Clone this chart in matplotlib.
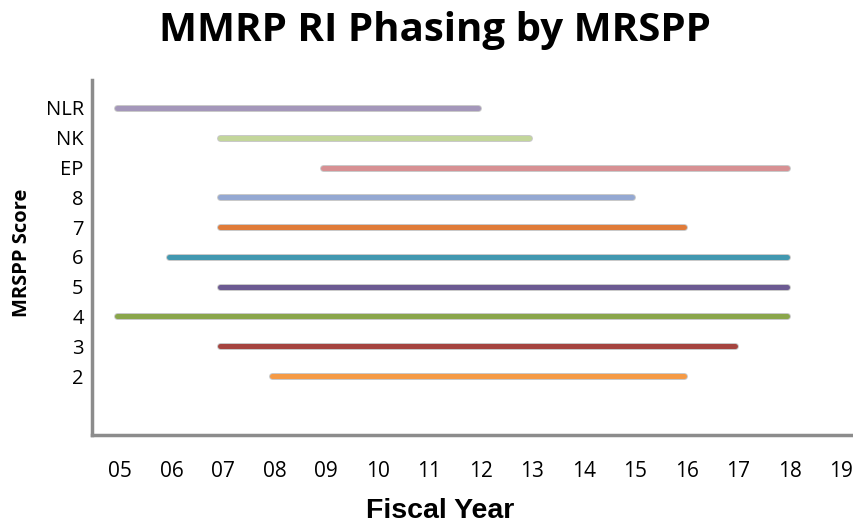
import matplotlib
matplotlib.use("Agg")
import matplotlib.pyplot as plt
import matplotlib.patheffects as pe
from matplotlib.transforms import ScaledTranslation

# Data (bottom to top)
categories = ["2", "3", "4", "5", "6", "7", "8", "EP", "NK", "NLR"]
start_year = [8, 7, 5, 7, 6, 7, 7, 9, 7, 5]
end_year = [16, 17, 18, 18, 18, 16, 15, 18, 13, 12]
colors = ["#f59a45", "#a5443f", "#8aa64b", "#6c5a92", "#4298b0",
          "#e07b39", "#94a8d2", "#d79093", "#c3d69b", "#a497ba"]
year_ticks = list(range(5, 20))
year_labels = [f"{y:02d}" for y in year_ticks]

fig = plt.figure(figsize=(8.54, 5.25), dpi=100)
ax = fig.add_axes([92/854, 1-435/525, (852-92)/854, (435-80)/525])

for i, (s, e, c) in enumerate(zip(start_year, end_year, colors)):
    ax.plot([s, e], [i, i], color=c, lw=3.6, solid_capstyle="round",
            path_effects=[pe.Stroke(linewidth=5.0, foreground="#c8c8c8"), pe.Normal()],
            zorder=3)

ax.set_xlim(4.51, 19.27)
ax.set_ylim(-1.98, 9.94)
ax.set_xticks(year_ticks)
ax.set_xticklabels(year_labels, fontfamily="Open Sans", fontsize=15)
ax.set_yticks(range(len(categories)))
ax.set_yticklabels(categories, fontfamily="Open Sans", fontsize=14.5)
ax.tick_params(length=0)
ax.tick_params(axis="y", pad=6)
ax.tick_params(axis="x", pad=19)
shift = ScaledTranslation(3/100, 0, fig.dpi_scale_trans)
for lbl in ax.get_xticklabels():
    lbl.set_transform(lbl.get_transform() + shift)

for side in ["top", "right"]:
    ax.spines[side].set_visible(False)
for side in ["left", "bottom"]:
    ax.spines[side].set_color("#8c8c8c")
    ax.spines[side].set_linewidth(2.5)

fig.text(435/854, 1-30/525, "MMRP RI Phasing by MRSPP", ha="center", va="center",
         fontfamily="Open Sans", fontweight="bold", fontsize=29)
fig.text(22/854, 1-253/525, "MRSPP Score", ha="center", va="center", rotation=90,
         fontfamily="Open Sans", fontweight="bold", fontsize=14.5)
fig.text(440/854, 1-511/525, "Fiscal Year", ha="center", va="center",
         fontfamily="Liberation Sans", fontweight="bold", fontsize=20.5)

fig.savefig("out.png", dpi=100)
